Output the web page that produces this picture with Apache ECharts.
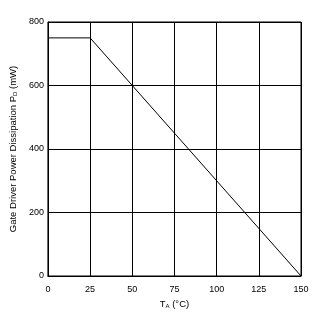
<!DOCTYPE html>
<html>
<head>
<meta charset="utf-8">
<script src="https://cdn.jsdelivr.net/npm/echarts@6/dist/echarts.min.js"></script>
<style>
html,body{margin:0;padding:0;background:#fff;}
#c{width:323px;height:318px;}
</style>
</head>
<body>
<div id="c"></div>
<script>
const temps = [0, 25, 150];
const power = [750, 750, 0];
const xTicks = [0, 25, 50, 75, 100, 125, 150];
const yTicks = [0, 200, 400, 600, 800];

const chart = echarts.init(document.getElementById('c'), null, {renderer: 'canvas'});
const font = '"Liberation Sans", Arial, sans-serif';
chart.setOption({
  animation: false,
  backgroundColor: '#fff',
  grid: {left: 47, top: 22, width: 254, height: 254, show: true, borderColor: '#000', borderWidth: 1, backgroundColor: 'transparent'},
  xAxis: {
    type: 'value', min: xTicks[0], max: xTicks[xTicks.length-1], interval: 25,
    axisLine: {show: true, lineStyle: {color: '#000', width: 1}},
    axisTick: {show: false},
    splitLine: {show: true, lineStyle: {color: '#000', width: 1}},
    axisLabel: {color: '#000', fontSize: 9, fontFamily: font, margin: 9},
    name: '{a|T}{s|A}{a| (°C)}',
    nameLocation: 'middle', nameGap: 22,
    nameTextStyle: {rich: {
      a: {fontSize: 9.5, fontFamily: font, color: '#000'},
      s: {fontSize: 6, fontFamily: font, color: '#000', verticalAlign: 'bottom', padding: [3,0,0,0]}
    }}
  },
  yAxis: {
    type: 'value', min: yTicks[0], max: yTicks[yTicks.length-1], interval: 200,
    axisLine: {show: true, lineStyle: {color: '#000', width: 1}},
    axisTick: {show: false},
    splitLine: {show: true, lineStyle: {color: '#000', width: 1}},
    axisLabel: {color: '#000', fontSize: 9, fontFamily: font, margin: 4},
    name: '{a|Gate Driver Power Dissipation P}{s|D}{a| (mW)}',
    nameLocation: 'middle', nameGap: 27,
    nameTextStyle: {rich: {
      a: {fontSize: 9.5, fontFamily: font, color: '#000'},
      s: {fontSize: 6, fontFamily: font, color: '#000', verticalAlign: 'bottom', padding: [3,0,0,0]}
    }}
  },
  series: [{
    type: 'line',
    data: temps.map((t, i) => [t, power[i]]),
    showSymbol: false,
    lineStyle: {color: '#000', width: 1},
    z: 5
  }]
});
</script>
</body>
</html>
